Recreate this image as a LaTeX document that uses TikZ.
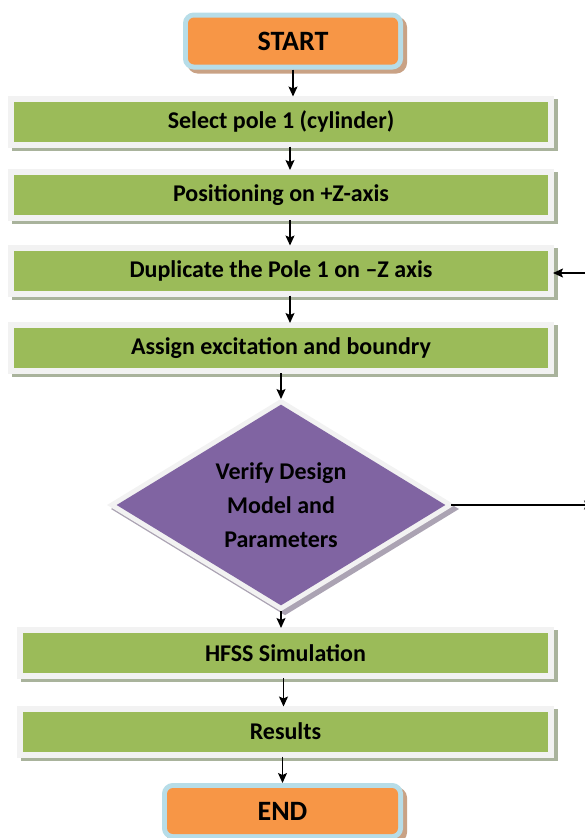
\documentclass[tikz,border=0pt]{standalone}
\usepackage{fontspec}
\setmainfont{Carlito}
\usepackage{tikz}
\usetikzlibrary{arrows.meta, positioning, shapes.geometric, calc}
\definecolor{leaf}{HTML}{9BBB59}
\definecolor{leafshade}{HTML}{A9B39C}
\definecolor{tangerine}{HTML}{F79646}
\definecolor{tanshade}{HTML}{C9A285}
\definecolor{skyrim}{HTML}{B7DDE8}
\definecolor{violet}{HTML}{8064A2}
\definecolor{violetshade}{HTML}{ABA3B3}
\definecolor{framegrey}{HTML}{F2F2F2}
\tikzset{
  stepbox/.style={rectangle, fill=leaf, minimum height=40pt, inner sep=0pt, outer sep=5pt,
    font=\bfseries\fontsize{24}{28}\selectfont,
    preaction={draw=leafshade, line width=12pt, transform canvas={shift={(4pt,-3pt)}}},
    preaction={draw=framegrey, line width=12pt}},
  terminal/.style={rectangle, rounded corners=6pt, fill=tangerine, minimum height=47pt,
    inner sep=0pt, outer sep=5pt, font=\bfseries\fontsize{28}{32}\selectfont,
    preaction={draw=tanshade, line width=10pt, transform canvas={shift={(4pt,-4pt)}}},
    preaction={draw=skyrim, line width=10pt}},
  decision/.style={diamond, fill=violet, aspect=1.6, minimum width=332pt, minimum height=204pt,
    inner sep=0pt, outer sep=4pt, align=center, font=\bfseries\fontsize{24}{34}\selectfont,
    preaction={draw=violetshade, line width=10pt, transform canvas={shift={(4pt,-4pt)}}},
    preaction={draw=framegrey, line width=10pt}},
  arrow/.style={-{Stealth[length=10pt, width=9pt, inset=2pt]}, line width=1.4pt, black},
}
\begin{document}
\begin{tikzpicture}[x=1pt, y=-1pt]
\useasboundingbox (0,0) rectangle (585,838);
% steps top to bottom
\node[terminal, minimum width=210pt] (start) at (293,41) {START};
\node[stepbox, minimum width=534pt] (pole) at (281,121.5) {Select pole 1 (cylinder)};
\node[stepbox, minimum width=534pt] (posz) at (281,195) {Positioning on +Z-axis};
\node[stepbox, minimum width=534pt] (dup) at (281,270.5) {Duplicate the Pole 1 on –Z axis};
\node[stepbox, minimum width=534pt] (assign) at (281,348) {Assign excitation and boundry};
\node[decision] (verify) at (281,505) {Verify Design\\Model and\\Parameters};
\node[stepbox, minimum width=525pt] (hfss) at (285.5,653) {HFSS Simulation};
\node[stepbox, minimum width=525pt] (res) at (285.5,731.5) {Results};
\node[terminal, minimum width=231pt, minimum height=46pt] (end) at (282.5,811) {END};

% loose ends at the right edge
\coordinate (loopin) at (598,273);
\coordinate (loopout) at (594,505);

\draw[arrow] (start.south) -- (start.south |- pole.north);
\draw[arrow] ([xshift=9pt]pole.south) -- ([xshift=9pt]posz.north);
\draw[arrow] ([xshift=9pt]posz.south) -- ([xshift=9pt]dup.north);
\draw[arrow] ([xshift=9pt]dup.south) -- ([xshift=9pt]assign.north);
\draw[arrow] (assign.south -| verify.north) -- (verify.north);
\draw[arrow] (verify.south) -- (verify.south |- hfss.north);
\draw[arrow] ([xshift=-2pt]hfss.south) -- ([xshift=-2pt]res.north);
\draw[arrow] (res.south -| end.north) -- (end.north);
\draw[arrow] (loopin) -- (dup.east |- loopin);
\draw[arrow] (verify.east) -- (loopout);
\end{tikzpicture}
\end{document}
